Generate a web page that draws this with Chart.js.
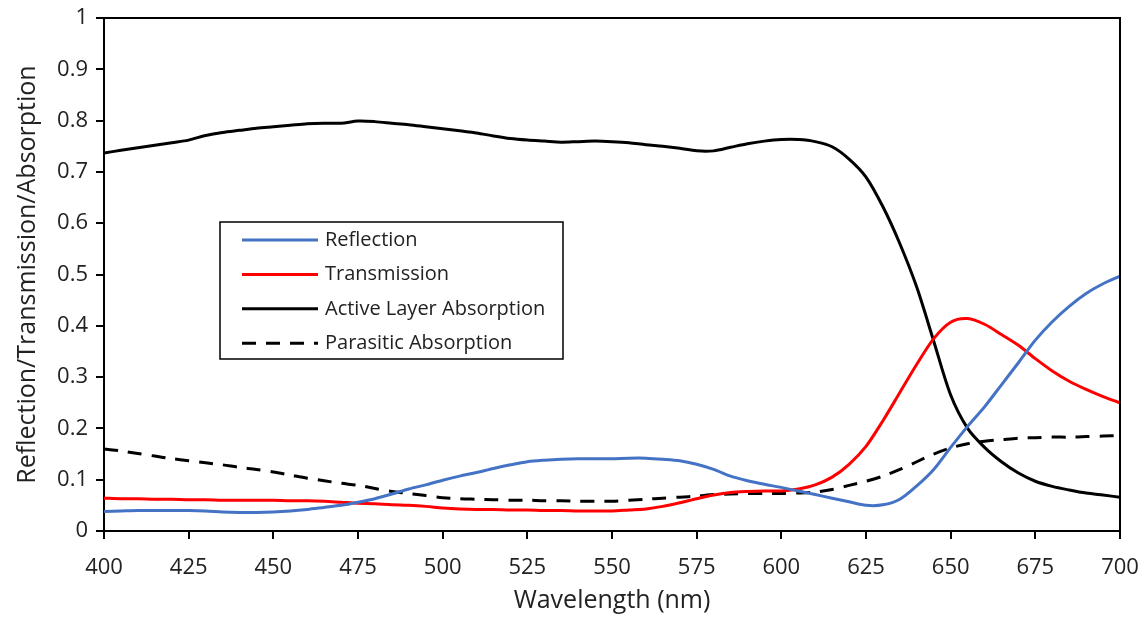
<!DOCTYPE html>
<html>
<head>
<meta charset="utf-8">
<title>Optical response</title>
<script src="https://cdn.jsdelivr.net/npm/chart.js@4.4.1/dist/chart.umd.min.js"></script>
<style>
  html, body { margin: 0; padding: 0; background: #fff; }
  #wrap { width: 1146px; height: 617px; }
</style>
</head>
<body>
<div id="wrap"><canvas id="spectra" width="1146" height="617"></canvas></div>
<script>
// wavelength grid, 5 nm steps
const wavelengths = [
  400, 405, 410, 415, 420, 425, 430, 435, 440, 445,
  450, 455, 460, 465, 470, 475, 480, 485, 490, 495,
  500, 505, 510, 515, 520, 525, 530, 535, 540, 545,
  550, 555, 560, 565, 570, 575, 580, 585, 590, 595,
  600, 605, 610, 615, 620, 625, 630, 635, 640, 645,
  650, 655, 660, 665, 670, 675, 680, 685, 690, 695, 700
];

const reflection = [
  0.038, 0.039, 0.040, 0.040, 0.040, 0.040, 0.039, 0.037, 0.036, 0.036,
  0.037, 0.039, 0.042, 0.046, 0.050, 0.056, 0.063, 0.072, 0.082, 0.090,
  0.099, 0.107, 0.114, 0.122, 0.129, 0.135, 0.138, 0.140, 0.141, 0.141,
  0.141, 0.142, 0.142, 0.140, 0.137, 0.130, 0.120, 0.107, 0.098, 0.091,
  0.085, 0.078, 0.071, 0.064, 0.057, 0.050, 0.051, 0.062, 0.088, 0.120,
  0.163, 0.204, 0.242, 0.285, 0.328, 0.372, 0.408, 0.438, 0.463, 0.482, 0.497
];

const transmission = [
  0.064, 0.063, 0.063, 0.062, 0.062, 0.061, 0.061, 0.060, 0.060, 0.060,
  0.060, 0.059, 0.059, 0.058, 0.056, 0.054, 0.053, 0.051, 0.050, 0.048,
  0.045, 0.043, 0.042, 0.042, 0.041, 0.041, 0.040, 0.040, 0.039, 0.039,
  0.039, 0.041, 0.043, 0.048, 0.055, 0.063, 0.070, 0.075, 0.077, 0.078,
  0.078, 0.082, 0.090, 0.105, 0.130, 0.165, 0.215, 0.270, 0.325, 0.375,
  0.407, 0.414, 0.403, 0.383, 0.362, 0.336, 0.312, 0.292, 0.276, 0.262, 0.250
];

const activeAbsorption = [
  0.737, 0.742, 0.747, 0.752, 0.757, 0.762, 0.771, 0.777, 0.781, 0.785,
  0.788, 0.791, 0.794, 0.795, 0.795, 0.799, 0.798, 0.795, 0.792, 0.788,
  0.784, 0.780, 0.776, 0.770, 0.765, 0.762, 0.760, 0.758, 0.759, 0.760,
  0.759, 0.757, 0.753, 0.750, 0.746, 0.741, 0.741, 0.748, 0.755, 0.760,
  0.763, 0.763, 0.759, 0.749, 0.725, 0.690, 0.632, 0.560, 0.475, 0.370,
  0.265, 0.200, 0.163, 0.135, 0.113, 0.097, 0.087, 0.080, 0.074, 0.070, 0.066
];

const parasiticAbsorption = [
  0.160, 0.156, 0.151, 0.146, 0.141, 0.137, 0.133, 0.129, 0.124, 0.120,
  0.115, 0.109, 0.103, 0.098, 0.093, 0.089, 0.083, 0.077, 0.073, 0.069,
  0.065, 0.063, 0.062, 0.061, 0.060, 0.060, 0.059, 0.059, 0.058, 0.058,
  0.058, 0.060, 0.062, 0.064, 0.066, 0.068, 0.071, 0.072, 0.073, 0.073,
  0.073, 0.074, 0.076, 0.081, 0.089, 0.097, 0.107, 0.120, 0.135, 0.150,
  0.162, 0.170, 0.175, 0.178, 0.181, 0.182, 0.183, 0.183, 0.184, 0.185, 0.186
];

const seriesNames = ["Reflection", "Transmission", "Active Layer Absorption", "Parasitic Absorption"];
const yTickLabels = ["0", "0.1", "0.2", "0.3", "0.4", "0.5", "0.6", "0.7", "0.8", "0.9", "1"];
const xTickLabels = ["400", "425", "450", "475", "500", "525", "550", "575", "600", "625", "650", "675", "700"];

const FONT = "'Open Sans', 'Noto Sans', sans-serif";
const INK = "#222";

function toPoints(values) {
  return wavelengths.map((w, i) => ({ x: w, y: values[i] }));
}

// plot frame (top + right edges) and the boxed legend inside the plot
const framePlugin = {
  id: "frameAndLegend",
  afterDatasetsDraw(chart) {
    const { ctx, chartArea } = chart;
    ctx.save();
    ctx.strokeStyle = "#000";
    ctx.lineWidth = 2;
    ctx.beginPath();
    ctx.moveTo(chartArea.left - 8, chartArea.top);
    ctx.lineTo(chartArea.right, chartArea.top);
    ctx.lineTo(chartArea.right, chartArea.bottom);
    ctx.stroke();

    // legend box
    const bx = chartArea.left + 116;
    const by = chartArea.top + 204;
    const bw = 343;
    const bh = 137;
    ctx.fillStyle = "#fff";
    ctx.fillRect(bx, by, bw, bh);
    ctx.lineWidth = 1.5;
    ctx.strokeRect(bx, by, bw, bh);

    ctx.font = "20px " + FONT;
    ctx.textBaseline = "middle";
    chart.data.datasets.forEach((ds, i) => {
      const y = by + 18 + i * 34.4;
      ctx.strokeStyle = ds.borderColor;
      ctx.lineWidth = ds.borderWidth;
      ctx.setLineDash(ds.borderDash || []);
      ctx.beginPath();
      ctx.moveTo(bx + 22, y);
      ctx.lineTo(bx + 98, y);
      ctx.stroke();
      ctx.setLineDash([]);
      ctx.fillStyle = INK;
      ctx.fillText(ds.label, bx + 105, y);
    });
    ctx.restore();
  }
};

const ctx = document.getElementById("spectra");

new Chart(ctx, {
  type: "line",
  data: {
    datasets: [
      {
        label: seriesNames[0],
        data: toPoints(reflection),
        borderColor: "#4472C4",
        borderWidth: 3,
      },
      {
        label: seriesNames[1],
        data: toPoints(transmission),
        borderColor: "#FF0000",
        borderWidth: 3,
      },
      {
        label: seriesNames[2],
        data: toPoints(activeAbsorption),
        borderColor: "#000000",
        borderWidth: 3,
      },
      {
        label: seriesNames[3],
        data: toPoints(parasiticAbsorption),
        borderColor: "#000000",
        borderWidth: 3,
        borderDash: [14, 10],
      },
    ],
  },
  options: {
    responsive: false,
    animation: false,
    layout: { padding: { left: 0, right: 26, top: 18, bottom: 0 } },
    elements: {
      point: { radius: 0 },
      line: { tension: 0.3, fill: false },
    },
    plugins: {
      legend: { display: false },
      tooltip: { enabled: false },
    },
    scales: {
      x: {
        type: "linear",
        min: 400,
        max: 700,
        afterFit: (scale) => {
          scale.height = 86;
          scale.paddingLeft = 0;
          scale.paddingRight = 0;
        },
        ticks: {
          stepSize: 25,
          maxRotation: 0,
          padding: 16,
          color: INK,
          font: { family: FONT, size: 22 },
          callback: (v) => xTickLabels[(v - 400) / 25],
        },
        grid: { drawOnChartArea: false, tickLength: 8, color: "#000", lineWidth: 2 },
        border: { display: true, color: "#000", width: 2 },
        title: {
          display: true,
          text: "Wavelength (nm)",
          color: INK,
          font: { family: FONT, size: 25 },
          padding: { top: 0, bottom: 1 },
        },
      },
      y: {
        min: 0,
        max: 1,
        afterFit: (scale) => {
          scale.width = 104;
          scale.paddingTop = 0;
          scale.paddingBottom = 0;
        },
        ticks: {
          stepSize: 0.1,
          padding: 8,
          color: INK,
          font: { family: FONT, size: 22 },
          callback: (v) => yTickLabels[Math.round(v * 10)],
        },
        grid: { drawOnChartArea: false, tickLength: 8, color: "#000", lineWidth: 2 },
        border: { display: true, color: "#000", width: 2 },
        title: {
          display: true,
          text: "Reflection/Transmission/Absorption",
          color: INK,
          font: { family: FONT, size: 25 },
          padding: { top: 13, bottom: 0 },
        },
      },
    },
  },
  plugins: [framePlugin],
});
</script>
</body>
</html>
